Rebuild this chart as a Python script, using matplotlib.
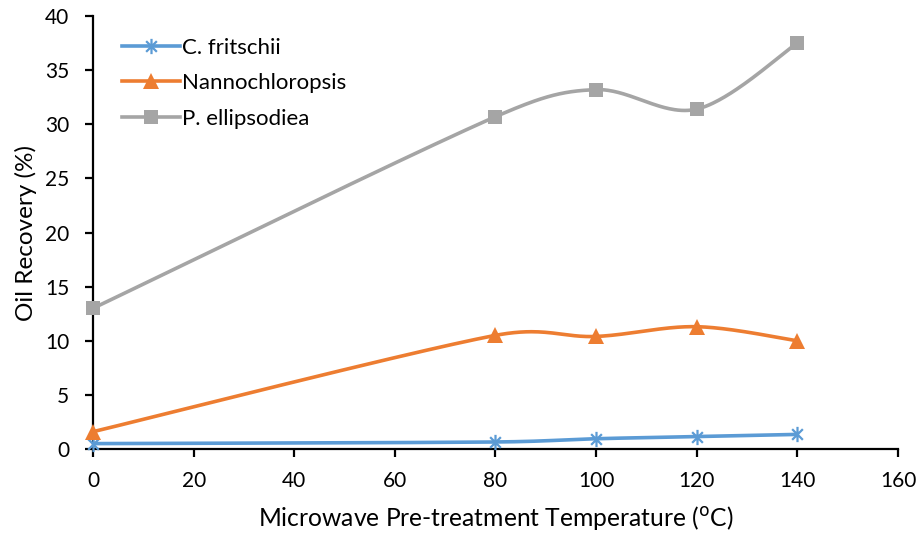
import numpy as np
import matplotlib
matplotlib.use("Agg")
import matplotlib.pyplot as plt
from matplotlib.path import Path
from matplotlib.lines import Line2D

plt.rcParams['font.family'] = ['Lato', 'DejaVu Sans']

temperature = [0, 80, 100, 120, 140]
c_fritschii = [0.5, 0.65, 0.95, 1.15, 1.35]
nannochloropsis = [1.6, 10.5, 10.4, 11.3, 10.0]
p_ellipsodiea = [13.0, 30.7, 33.2, 31.4, 37.5]

series_names = ["C. fritschii", "Nannochloropsis", "P. ellipsodiea"]
colors = ["#5B9BD5", "#ED7D31", "#A5A5A5"]

# asterisk marker: an X crossed by a vertical stroke
asterisk = Path(
    [(-0.7, -0.7), (0.7, 0.7), (-0.7, 0.7), (0.7, -0.7), (0, -1), (0, 1)],
    [Path.MOVETO, Path.LINETO, Path.MOVETO, Path.LINETO, Path.MOVETO, Path.LINETO],
)

fig = plt.figure(figsize=(9.21, 5.38), dpi=100)
ax = fig.add_axes([0.101, 0.1654, 0.874, 0.8048])
ax.set_xlim(0, 160)
ax.set_ylim(0, 40)


def smooth_curve(xs, ys, n=60):
    """Bezier smoothing in display space with control arms capped at half a segment."""
    pix = ax.transData.transform(np.column_stack([xs, ys]).astype(float))
    m = len(pix)
    out = []
    for i in range(m - 1):
        p0 = pix[i - 1] if i > 0 else pix[i]
        p1 = pix[i]
        p2 = pix[i + 1]
        p3 = pix[i + 2] if i + 2 < m else pix[i + 1]
        d12 = np.linalg.norm(p2 - p1)
        d02 = np.linalg.norm(p2 - p0)
        d13 = np.linalg.norm(p3 - p1)
        f0 = 1 / 6 if d02 / 6 < d12 / 2 else d12 / d02 / 2
        f1 = 1 / 6 if d13 / 6 < d12 / 2 else d12 / d13 / 2
        c1 = p1 + f0 * (p2 - p0)
        c2 = p2 - f1 * (p3 - p1)
        t = np.linspace(0, 1, n)[:, None]
        seg = ((1 - t) ** 3) * p1 + 3 * ((1 - t) ** 2) * t * c1 + 3 * (1 - t) * t ** 2 * c2 + t ** 3 * p2
        out.append(seg if i == 0 else seg[1:])
    pts = ax.transData.inverted().transform(np.vstack(out))
    return pts[:, 0], pts[:, 1]


markers = [dict(marker=asterisk, markersize=11, markeredgewidth=1.6, markerfacecolor="none"),
           dict(marker="^", markersize=11, markeredgewidth=0),
           dict(marker="s", markersize=10, markeredgewidth=0)]

handles = []
for ys, name, col, mk in zip([c_fritschii, nannochloropsis, p_ellipsodiea], series_names, colors, markers):
    sx, sy = smooth_curve(temperature, ys)
    ax.plot(sx, sy, color=col, lw=2.6, solid_capstyle="round", zorder=2)
    mkc = dict(mk)
    if mkc.get("markerfacecolor") == "none":
        mkc["markeredgecolor"] = col
    else:
        mkc["markerfacecolor"] = col
    ax.plot(temperature, ys, linestyle="none", color=col, zorder=3, clip_on=False, **mkc)
    handles.append(Line2D([0], [0], color=col, lw=2.6, **mkc))

ax.set_xticks(np.arange(0, 161, 20))
ax.set_yticks(np.arange(0, 41, 5))
for s in ["top", "right"]:
    ax.spines[s].set_visible(False)
for s in ["left", "bottom"]:
    ax.spines[s].set_linewidth(1.6)
    ax.spines[s].set_color("black")
ax.tick_params(direction="out", length=6, width=1.6, labelsize=15, colors="black")
ax.tick_params(axis="x", pad=10)
ax.tick_params(axis="y", pad=11)

ax.set_xlabel("Microwave Pre-treatment Temperature ($^{\\mathrm{o}}$C)", fontsize=17.7, labelpad=9)
ax.set_ylabel("Oil Recovery (%)", fontsize=17.5, labelpad=6)

ax.legend(handles, series_names, loc="upper left", bbox_to_anchor=(0.036, 0.95), frameon=False,
          fontsize=16, handlelength=2.6, handletextpad=0.1, labelspacing=0.7,
          borderpad=0, borderaxespad=0)

fig.savefig("out.png", dpi=100)
